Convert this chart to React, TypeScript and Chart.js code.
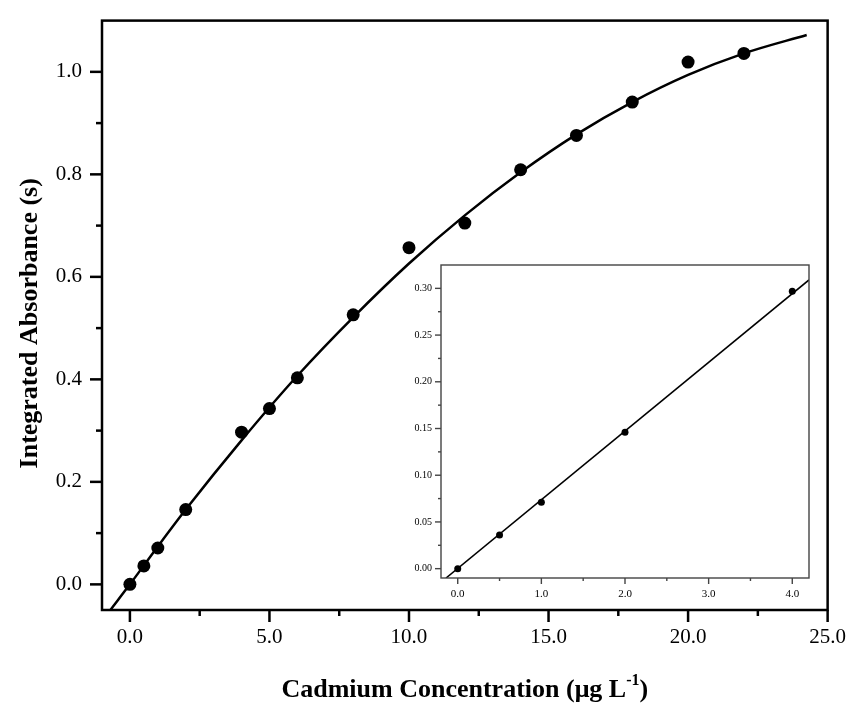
import React, { useEffect, useRef } from "react";
import { Chart, registerables } from "chart.js";

Chart.register(...registerables);

// ---- Main plot data ----
const concentrations = [0, 0.5, 1, 2, 4, 5, 6, 8, 10, 12, 14, 16, 18, 20, 22];
const absorbances = [0.0, 0.036, 0.071, 0.146, 0.297, 0.343, 0.403, 0.526, 0.657, 0.705, 0.809, 0.876, 0.941, 1.019, 1.036];
const fitX = [-0.7, 0, 1, 2, 4, 6, 8, 10, 12, 14, 16, 18, 20, 22, 24.25];
const fitY = [-0.05, 0.0, 0.074, 0.146, 0.281, 0.407, 0.521, 0.626, 0.72, 0.804, 0.878, 0.941, 0.994, 1.036, 1.072];
const xMajorTicks = [0, 5, 10, 15, 20, 25];
const xMinorTicks = [2.5, 7.5, 12.5, 17.5, 22.5];
const yMajorTicks = [0, 0.2, 0.4, 0.6, 0.8, 1.0];
const yMinorTicks = [0.1, 0.3, 0.5, 0.7, 0.9];

// ---- Inset data ----
const insetConc = [0, 0.5, 1, 2, 4];
const insetAbs = [0.0, 0.036, 0.071, 0.146, 0.297];
const insetFitX = [-0.14, 4.2];
const insetFitY = [-0.01, 0.309];
const insetXMajor = [0, 1, 2, 3, 4];
const insetXMinor = [0.5, 1.5, 2.5, 3.5];
const insetYMajor = [0, 0.05, 0.1, 0.15, 0.2, 0.25, 0.3];
const insetYMinor = [0.025, 0.075, 0.125, 0.175, 0.225, 0.275];

const SERIF = "'Liberation Serif', 'Times New Roman', serif";

function framePlugin(o: any) {
  return {
    id: "frame",
    afterDraw(chart: any) {
      const { ctx, chartArea: a, scales } = chart;
      ctx.save();
      ctx.strokeStyle = o.color;
      ctx.lineWidth = o.lw;
      ctx.lineCap = "butt";
      ctx.strokeRect(a.left, a.top, a.right - a.left, a.bottom - a.top);
      const seg = (x1: number, y1: number, x2: number, y2: number) => {
        ctx.beginPath();
        ctx.moveTo(x1, y1);
        ctx.lineTo(x2, y2);
        ctx.stroke();
      };
      ctx.lineWidth = o.tickLw;
      for (const v of o.xMajor) {
        const p = scales.x.getPixelForValue(v);
        seg(p, a.bottom, p, a.bottom + o.major);
      }
      for (const v of o.xMinor) {
        const p = scales.x.getPixelForValue(v);
        seg(p, a.bottom, p, a.bottom + o.minor);
      }
      for (const v of o.yMajor) {
        const p = scales.y.getPixelForValue(v);
        seg(a.left, p, a.left - o.major, p);
      }
      for (const v of o.yMinor) {
        const p = scales.y.getPixelForValue(v);
        seg(a.left, p, a.left - o.minor, p);
      }
      if (o.titles) {
        ctx.fillStyle = "#000";
        // y title
        ctx.save();
        ctx.font = `bold 26px ${SERIF}`;
        ctx.textAlign = "center";
        ctx.textBaseline = "alphabetic";
        ctx.translate(37, (a.top + a.bottom) / 2 + 8);
        ctx.rotate(-Math.PI / 2);
        ctx.fillText("Integrated Absorbance (s)", 0, 0);
        ctx.restore();
        // x title with superscript
        const main = "Cadmium Concentration (\u03bcg L";
        const sup = "-1";
        const end = ")";
        ctx.textBaseline = "alphabetic";
        ctx.textAlign = "left";
        ctx.font = `bold 26px ${SERIF}`;
        const w1 = ctx.measureText(main).width;
        const w3 = ctx.measureText(end).width;
        ctx.font = `bold 16px ${SERIF}`;
        const w2 = ctx.measureText(sup).width;
        const total = w1 + w2 + w3;
        let x = (a.left + a.right) / 2 - total / 2;
        const by = 697;
        ctx.font = `bold 26px ${SERIF}`;
        ctx.fillText(main, x, by);
        x += w1;
        ctx.font = `bold 16px ${SERIF}`;
        ctx.fillText(sup, x, by - 12);
        x += w2;
        ctx.font = `bold 26px ${SERIF}`;
        ctx.fillText(end, x, by);
      }
      ctx.restore();
    },
  };
}

export default function App() {
  const mainRef = useRef<HTMLCanvasElement>(null);
  const insetRef = useRef<HTMLCanvasElement>(null);

  useEffect(() => {
    document.body.style.margin = "0";
    const mainChart = new Chart(mainRef.current as HTMLCanvasElement, {
      type: "scatter",
      data: {
        datasets: [
          {
            data: fitX.map((x, i) => ({ x, y: fitY[i] })),
            showLine: true,
            borderColor: "#000",
            borderWidth: 2.5,
            pointRadius: 0,
            cubicInterpolationMode: "monotone",
            fill: false,
          } as any,
          {
            data: concentrations.map((x, i) => ({ x, y: absorbances[i] })),
            showLine: false,
            pointRadius: 6.5,
            pointBackgroundColor: "#000",
            pointBorderWidth: 0,
            backgroundColor: "#000",
          } as any,
        ],
      },
      options: {
        animation: false,
        responsive: false,
        layout: { autoPadding: false, padding: { left: 0, top: 17, right: 20, bottom: 0 } } as any,
        plugins: { legend: { display: false }, tooltip: { enabled: false } },
        scales: {
          x: {
            type: "linear",
            min: -1,
            max: 25,
            grid: { display: true, drawOnChartArea: false, drawTicks: true, tickLength: 12, color: "rgba(0,0,0,0)", tickColor: "rgba(0,0,0,0)" },
            border: { display: false },
            ticks: {
              color: "#000",
              font: { family: SERIF, size: 21 },
              padding: 3,
              autoSkip: false,
              maxRotation: 0,
              callback: (v: any) => Number(v).toFixed(1),
            },
            afterBuildTicks: (s: any) => {
              s.ticks = xMajorTicks.map((v) => ({ value: v }));
            },
            afterFit: (s: any) => {
              s.height = 94;
            },
          },
          y: {
            type: "linear",
            min: -0.05,
            max: 1.1,
            grid: { display: true, drawOnChartArea: false, drawTicks: true, tickLength: 12, color: "rgba(0,0,0,0)", tickColor: "rgba(0,0,0,0)" },
            border: { display: false },
            ticks: {
              color: "#000",
              font: { family: SERIF, size: 21 },
              padding: 8,
              autoSkip: false,
              callback: (v: any) => Number(v).toFixed(1),
            },
            afterBuildTicks: (s: any) => {
              s.ticks = yMajorTicks.map((v) => ({ value: v }));
            },
            afterFit: (s: any) => {
              s.width = 102;
            },
          },
        },
      },
      plugins: [
        framePlugin({
          color: "#000",
          lw: 2.5,
          tickLw: 2.5,
          major: 12,
          minor: 6,
          xMajor: xMajorTicks,
          xMinor: xMinorTicks,
          yMajor: yMajorTicks,
          yMinor: yMinorTicks,
          titles: true,
        }),
      ],
    });

    const insetChart = new Chart(insetRef.current as HTMLCanvasElement, {
      type: "scatter",
      data: {
        datasets: [
          {
            data: insetFitX.map((x, i) => ({ x, y: insetFitY[i] })),
            showLine: true,
            borderColor: "#000",
            borderWidth: 1.6,
            pointRadius: 0,
            fill: false,
          } as any,
          {
            data: insetConc.map((x, i) => ({ x, y: insetAbs[i] })),
            showLine: false,
            pointRadius: 3.5,
            pointBackgroundColor: "#000",
            pointBorderWidth: 0,
            backgroundColor: "#000",
          } as any,
        ],
      },
      options: {
        animation: false,
        responsive: false,
        layout: { autoPadding: false, padding: { left: 0, top: 15, right: 11, bottom: 0 } } as any,
        plugins: { legend: { display: false }, tooltip: { enabled: false } },
        scales: {
          x: {
            type: "linear",
            min: -0.2,
            max: 4.2,
            grid: { display: true, drawOnChartArea: false, drawTicks: true, tickLength: 6, color: "rgba(0,0,0,0)", tickColor: "rgba(0,0,0,0)" },
            border: { display: false },
            ticks: {
              color: "#000",
              font: { family: SERIF, size: 11 },
              padding: 4,
              autoSkip: false,
              maxRotation: 0,
              callback: (v: any) => Number(v).toFixed(1),
            },
            afterBuildTicks: (s: any) => {
              s.ticks = insetXMajor.map((v) => ({ value: v }));
            },
            afterFit: (s: any) => {
              s.height = 42;
            },
          },
          y: {
            type: "linear",
            min: -0.01,
            max: 0.325,
            grid: { display: true, drawOnChartArea: false, drawTicks: true, tickLength: 6, color: "rgba(0,0,0,0)", tickColor: "rgba(0,0,0,0)" },
            border: { display: false },
            ticks: {
              color: "#000",
              font: { family: SERIF, size: 10 },
              padding: 3,
              autoSkip: false,
              callback: (v: any) => Number(v).toFixed(2),
            },
            afterBuildTicks: (s: any) => {
              s.ticks = insetYMajor.map((v) => ({ value: v }));
            },
            afterFit: (s: any) => {
              s.width = 41;
            },
          },
        },
      },
      plugins: [
        framePlugin({
          color: "#444",
          lw: 1.4,
          tickLw: 1.4,
          major: 6,
          minor: 3,
          xMajor: insetXMajor,
          xMinor: insetXMinor,
          yMajor: insetYMajor,
          yMinor: insetYMinor,
          titles: false,
        }),
      ],
    });

    return () => {
      mainChart.destroy();
      insetChart.destroy();
    };
  }, []);

  return (
    <div style={{ position: "relative", width: 849, height: 704, background: "#fff" }}>
      <canvas ref={mainRef} width={849} height={704} style={{ position: "absolute", left: 0, top: 0, display: "block" }} />
      <canvas ref={insetRef} width={420} height={370} style={{ position: "absolute", left: 400, top: 250, display: "block" }} />
    </div>
  );
}
